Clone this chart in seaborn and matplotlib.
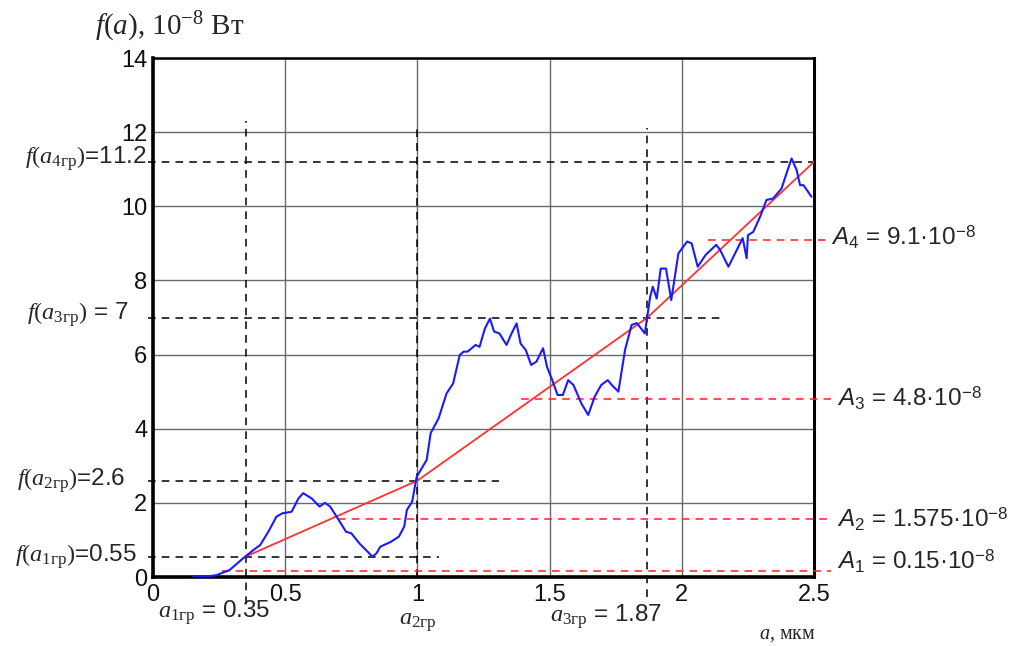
import numpy as np
import pandas as pd
import matplotlib
matplotlib.use("Agg")
import matplotlib.pyplot as plt
import seaborn as sns

# ---------------- data ----------------
curve_x = [0.153, 0.20, 0.24, 0.29, 0.34, 0.38, 0.405, 0.436, 0.467, 0.49, 0.524, 0.55, 0.568,
           0.60, 0.63, 0.65, 0.67, 0.71, 0.73, 0.75, 0.78, 0.83, 0.845, 0.86, 0.90, 0.93, 0.95,
           0.96, 0.98, 0.997, 1.035, 1.05, 1.08, 1.11, 1.135, 1.16, 1.175, 1.19, 1.22, 1.235,
           1.255, 1.274, 1.29, 1.31, 1.337, 1.356, 1.375, 1.39, 1.41, 1.43, 1.45, 1.475, 1.49,
           1.51, 1.53, 1.55, 1.57, 1.59, 1.62, 1.646, 1.67, 1.695, 1.72, 1.735, 1.76, 1.785,
           1.81, 1.83, 1.86, 1.88, 1.89, 1.905, 1.92, 1.94, 1.96, 1.987, 2.02, 2.037, 2.06,
           2.09, 2.13, 2.145, 2.176, 2.195, 2.23, 2.245, 2.25, 2.27, 2.296, 2.32, 2.345, 2.377,
           2.396, 2.415, 2.434, 2.447, 2.46, 2.49]
curve_y = [0.0, 0.01, 0.05, 0.19, 0.5, 0.73, 0.86, 1.22, 1.63, 1.72, 1.76, 2.12, 2.26,
           2.12, 1.9, 2.0, 1.9, 1.45, 1.22, 1.18, 0.91, 0.55, 0.64, 0.82, 0.95, 1.09, 1.36,
           1.81, 2.03, 2.7, 3.16, 3.88, 4.28, 4.95, 5.22, 5.99, 6.08, 6.08, 6.26, 6.21,
           6.7, 6.97, 6.62, 6.57, 6.26, 6.57, 6.84, 6.3, 6.12, 5.72, 5.81, 6.17, 5.67,
           5.31, 4.91, 4.91, 5.31, 5.18, 4.68, 4.37, 4.86, 5.18, 5.31, 5.18, 5.0, 6.12,
           6.8, 6.85, 6.57, 7.55, 7.83, 7.51, 8.32, 8.32, 7.47, 8.73, 9.05, 9.0, 8.37,
           8.69, 8.96, 8.82, 8.37, 8.64, 9.14, 8.6, 9.22, 9.31, 9.72, 10.17, 10.21, 10.48,
           10.89, 11.29, 10.98, 10.57, 10.57, 10.26]

# boundary points (a_гр, f(a_гр)) of the piecewise-linear red line
bound_a = [0.35, 1.0, 1.87, 2.5]
bound_f = [0.55, 2.6, 7.0, 11.2]
bound_names = ["1гр", "2гр", "3гр", "4гр"]

# mean levels A_i and the x where each dashed red level starts
A_values = [0.15, 1.575, 4.8, 9.1]
A_text = ["0.15", "1.575", "4.8", "9.1"]
A_start = [0.26, 0.70, 1.39, 2.10]

x_ticks = [0, 0.5, 1, 1.5, 2, 2.5]
x_tick_labels = ["0", "0.5", "1", "1.5", "2", "2.5"]
y_ticks = [0, 2, 4, 6, 8, 10, 12, 14]

# ---------------- style ----------------
sns.set_style("white")
plt.rcParams["font.family"] = ["Liberation Sans", "DejaVu Sans"]
plt.rcParams["mathtext.fontset"] = "custom"
plt.rcParams["mathtext.rm"] = "Liberation Serif"
plt.rcParams["mathtext.it"] = "Liberation Serif:italic"
plt.rcParams["mathtext.bf"] = "Liberation Sans:italic"
plt.rcParams["mathtext.sf"] = "Liberation Sans"

fig = plt.figure(figsize=(10.10, 6.46), dpi=100)
ax = fig.add_axes([0.1515, 0.1068, 0.6545, 0.8034])

ax.set_xlim(0, 2.5)
ax.set_ylim(0, 14)
ax.set_xticks(x_ticks)
ax.set_xticklabels(x_tick_labels)
ax.set_yticks(y_ticks)
ax.tick_params(axis="both", length=0, labelsize=17, colors="#111111")
ax.tick_params(axis="x", pad=5)
ax.tick_params(axis="y", pad=4)
ax.grid(True, color="#6a6a6a", lw=1.0)
ax.set_axisbelow(True)
for side, lw in [("left", 2.6), ("bottom", 2.6), ("right", 2.2), ("top", 1.8)]:
    ax.spines[side].set_visible(True)
    ax.spines[side].set_color("black")
    ax.spines[side].set_linewidth(lw)

# ---------------- reference dashed lines (black) ----------------
dash_kw = dict(color="black", lw=1.1, dashes=(5, 4), clip_on=False, zorder=3)
h_ends = [1.08, 1.31, 2.15, 2.5]
for f, xe in zip(bound_f, h_ends):
    ax.plot([-0.02, xe], [f, f], **dash_kw)
v_ranges = [(-0.72, 12.3), (0.0, 12.1), (-0.55, 12.1)]
for a, (y0, y1) in zip(bound_a[:3], v_ranges):
    ax.plot([a, a], [y0, y1], **dash_kw)

# ---------------- red A levels ----------------
for val, xs in zip(A_values, A_start):
    ax.plot([xs, 2.565], [val, val], color="#ff2020", lw=1.1, dashes=(5, 4),
            clip_on=False, zorder=3)

# ---------------- curves ----------------
df_curve = pd.DataFrame({"a": curve_x, "f": curve_y})
sns.lineplot(data=df_curve, x="a", y="f", ax=ax, color="#1a1aff", lw=1.5,
             sort=False, zorder=5)
df_lin = pd.DataFrame({"a": bound_a, "f": bound_f})
sns.lineplot(data=df_lin, x="a", y="f", ax=ax, color="#ff3030", lw=1.3,
             sort=False, zorder=4)
ax.set_xlabel("")
ax.set_ylabel("")

# ---------------- annotations ----------------
fs = 17.5
# left labels f(a_i гр)
left_pos = [(-0.06, 0.55, "=0.55"), (-0.106, 2.6, "=2.6"),
            (-0.095, 7.07, " = 7"), (-0.023, 11.3, "=11.2")]
for name, (xt, yt, txt) in zip(bound_names, left_pos):
    ax.text(xt, yt, r"$f(a_{\mathrm{" + name + r"}})$" + txt, ha="right", va="center",
            fontsize=fs)

# right labels A_i
right_pos = [0.42, 1.56, 4.82, 9.15]
right_x = [2.585, 2.585, 2.585, 2.565]
for i, (val, yt, xt) in enumerate(zip(A_text, right_pos, right_x)):
    ax.text(xt, yt, r"$\mathbf{A}_{\mathsf{" + str(i + 1) + r"}}$ = " + val +
            r"·10$^{\mathsf{-8}}$", ha="left", va="center", fontsize=17.5)

# bottom labels
ax.text(0.02, -0.97, r"$a_{\mathrm{1гр}}$ = 0.35", ha="left", va="center", fontsize=fs)
ax.text(1.0, -1.24, r"$a_{\mathrm{2гр}}$", ha="center", va="center", fontsize=fs)
ax.text(1.5, -1.08, r"$a_{\mathrm{3гр}}$ = 1.87", ha="left", va="center", fontsize=fs)
ax.text(2.29, -1.56, r"$a$, мкм", ha="left", va="center", fontsize=14.5,
        family="Liberation Serif")

# axis title
fig.text(95 / 1010, 1 - 27 / 646, r"$f(a)$, 10$^{-8}$ Вт", ha="left", va="center",
         fontsize=21, family="Liberation Serif")

fig.savefig("out.png", dpi=100)
